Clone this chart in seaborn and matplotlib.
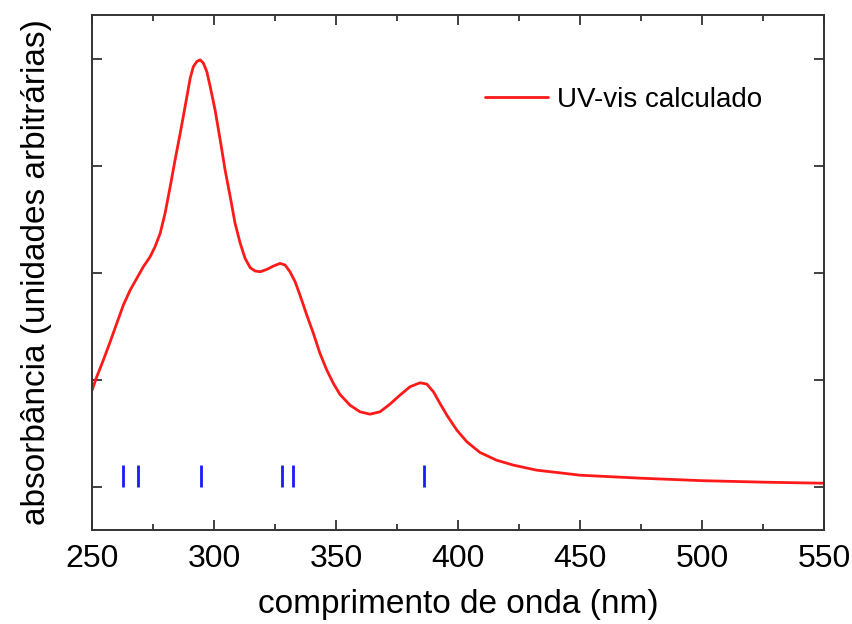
import matplotlib
matplotlib.use("Agg")
import matplotlib.pyplot as plt
import numpy as np
import pandas as pd
import seaborn as sns
from matplotlib.ticker import MultipleLocator

# computed UV-vis spectrum (wavelength in nm, absorbance in arbitrary units)
wavelength = [250.0, 251.9, 254.6, 257.4, 260.1, 262.8, 265.6, 268.3, 271.0,
              273.8, 275.8, 277.9, 279.9, 282.0, 284.0, 286.1, 288.1, 290.2,
              291.5, 292.9, 294.3, 295.6, 297.0, 298.4, 300.4, 302.5, 304.5,
              306.6, 308.6, 310.7, 312.7, 314.8, 316.8, 318.9, 321.6, 324.3,
              327.0, 329.1, 331.1, 333.2, 335.2, 338.0, 340.7, 343.4, 346.2,
              348.9, 351.6, 355.7, 359.8, 363.9, 368.0, 372.1, 376.2, 380.3,
              384.4, 387.2, 389.9, 392.6, 395.4, 399.5, 403.6, 409.0, 415.8,
              422.7, 432.2, 441.8, 450.0, 475.0, 500.0, 525.0, 550.0]
absorbance = [0.907, 1.031, 1.187, 1.358, 1.530, 1.701, 1.841, 1.950, 2.059,
              2.153, 2.246, 2.371, 2.558, 2.807, 3.056, 3.305, 3.554, 3.819,
              3.928, 3.975, 3.991, 3.960, 3.882, 3.741, 3.523, 3.243, 2.963,
              2.713, 2.464, 2.278, 2.137, 2.050, 2.019, 2.012, 2.034, 2.065,
              2.090, 2.075, 2.012, 1.919, 1.794, 1.607, 1.436, 1.249, 1.093,
              0.969, 0.866, 0.766, 0.704, 0.682, 0.704, 0.776, 0.860, 0.938,
              0.975, 0.963, 0.891, 0.782, 0.673, 0.533, 0.424, 0.324, 0.252,
              0.206, 0.159, 0.134, 0.112, 0.084, 0.061, 0.047, 0.037]

# positions of the calculated transitions (stick marks)
transitions = [262.6, 269.0, 294.5, 327.9, 332.5, 386.2]

spectrum = pd.DataFrame({"nm": wavelength, "abs": absorbance})

sns.set_theme(style="ticks")
plt.rcParams["font.family"] = ["Liberation Sans", "DejaVu Sans"]
plt.rcParams["text.color"] = "black"
plt.rcParams["axes.labelcolor"] = "black"

fig = plt.figure(figsize=(8.53, 6.24), dpi=100)
ax = fig.add_axes([0.108, 0.1506, 0.858, 0.8254])

sns.lineplot(data=spectrum, x="nm", y="abs", ax=ax, color="#ff1a1a",
             linewidth=2.0, label="UV-vis calculado")
ax.vlines(transitions, 0.0, 0.21, color="#1a1aff", linewidth=2.0)

ax.set_xlim(250, 550)
ax.set_ylim(-0.4, 4.41)
ax.xaxis.set_major_locator(MultipleLocator(50))
ax.xaxis.set_minor_locator(MultipleLocator(25))
ax.set_yticks([0, 1, 2, 3, 4])
ax.set_yticklabels([])

ax.tick_params(which="both", direction="in", top=True, right=True,
               color="#333333", width=1.3, labelcolor="black")
ax.tick_params(which="major", length=7, labelsize=23, pad=10)
ax.tick_params(which="minor", length=4)
for s in ax.spines.values():
    s.set_color("#333333")
    s.set_linewidth(1.4)

ax.set_xlabel("comprimento de onda (nm)", fontsize=24, labelpad=11)
ax.set_ylabel("absorbância (unidades arbitrárias)", fontsize=24, labelpad=19)

ax.legend(loc="center left", bbox_to_anchor=(0.537, 0.835), frameon=False,
          fontsize=20, handlelength=2.27, handletextpad=0.32,
          borderpad=0, borderaxespad=0)

fig.savefig("out.png", dpi=100)
